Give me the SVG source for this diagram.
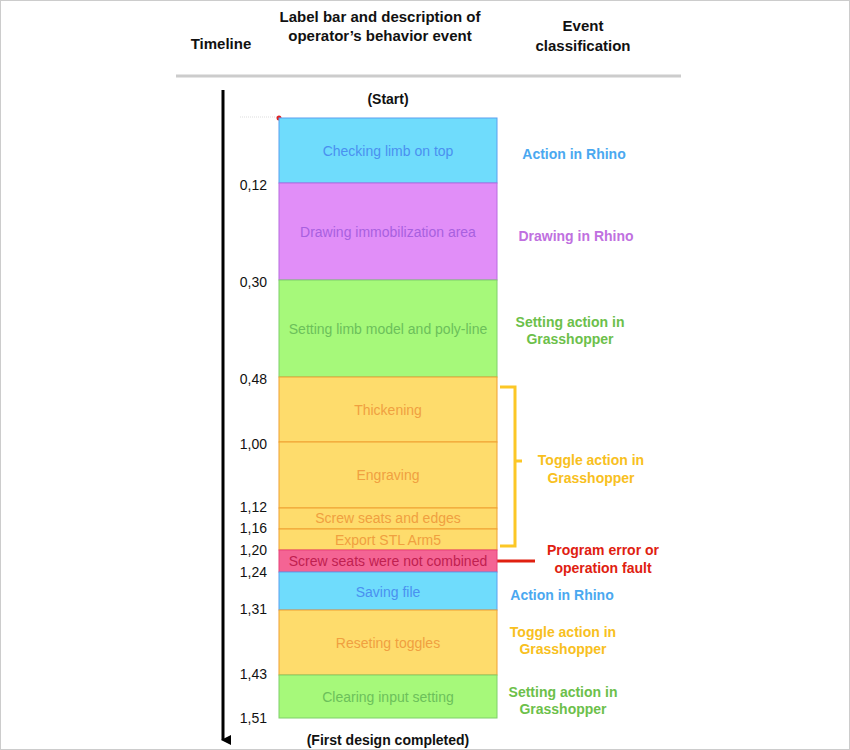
<svg xmlns="http://www.w3.org/2000/svg" width="850" height="750" viewBox="0 0 850 750">
<style>
text{font-family:"Liberation Sans",Arial,sans-serif}
.h{font-size:15px;font-weight:bold;fill:#111;text-anchor:middle}
.t{font-size:14px;fill:#111;text-anchor:end}
.l{font-size:14px;text-anchor:middle}
.c{font-size:14px;font-weight:bold;text-anchor:middle}
.bl{fill:#6fdcfc;stroke:#5aa0f0}
.pu{fill:#e18ef8;stroke:#b86be0}
.gr{fill:#a6f97a;stroke:#7fd06a}
.ye{fill:#fedc6c;stroke:#f0a030}
.rd{fill:#f46494;stroke:#e8407a}
</style>
<defs><marker id="ar" markerWidth="10" markerHeight="10" refX="5" refY="8" orient="auto" markerUnits="userSpaceOnUse"><path d="M0,0 L10,0 L5,10 z" fill="#000"/></marker></defs>
<rect width="850" height="750" fill="#fff"/>
<rect x="0.5" y="0.5" width="849" height="749" fill="none" stroke="#ccc"/>
<text class="h" x="221" y="49">Timeline</text>
<text class="h" x="380" y="22">Label bar and description of</text>
<text class="h" x="380" y="41">operator’s behavior event</text>
<text class="h" x="583" y="31">Event</text>
<text class="h" x="583" y="51">classification</text>
<line x1="176" y1="76" x2="681" y2="76" stroke="#ccc" stroke-width="3"/>
<g id="connectors">
<line x1="223" y1="90" x2="223" y2="740" stroke="#000" stroke-width="3" marker-end="url(#ar)"/>
<path d="M500,387 H515 V546 H500 M515,461 H522" fill="none" stroke="#fcc726" stroke-width="3"/>
<line x1="497" y1="561" x2="535" y2="561" stroke="#e02010" stroke-width="3"/>
<line x1="240" y1="117" x2="279" y2="117" stroke="#ddd" stroke-dasharray="1,1"/>
<circle cx="279" cy="118" r="2.5" fill="#e02020"/>
</g>
<text class="h" x="388" y="104" style="font-size:14px">(Start)</text>
<text class="h" x="388" y="745" style="font-size:14px">(First design completed)</text>
<g id="n1"><rect class="bl" x="279" y="118" width="218" height="65"/><text class="l" x="388" y="156" fill="#4a90f0">Checking limb on top</text></g>
<g id="n2"><rect class="pu" x="279" y="183" width="218" height="97"/><text class="l" x="388" y="237" fill="#a860e0">Drawing immobilization area</text></g>
<g id="n3"><rect class="gr" x="279" y="280" width="218" height="97"/><text class="l" x="388" y="334" fill="#6cc05a">Setting limb model and poly-line</text></g>
<g id="n4"><rect class="ye" x="279" y="377" width="218" height="65"/><text class="l" x="388" y="415" fill="#f0a040">Thickening</text></g>
<g id="n5"><rect class="ye" x="279" y="442" width="218" height="66"/><text class="l" x="388" y="480" fill="#f0a040">Engraving</text></g>
<g id="n6"><rect class="ye" x="279" y="508" width="218" height="21"/><text class="l" x="388" y="523" fill="#f0a040">Screw seats and edges</text></g>
<g id="n7"><rect class="ye" x="279" y="529" width="218" height="21"/><text class="l" x="388" y="545" fill="#f0a040">Export STL Arm5</text></g>
<g id="n8"><rect class="rd" x="279" y="550" width="218" height="22"/><text class="l" x="388" y="566" fill="#c02050">Screw seats were not combined</text></g>
<g id="n9"><rect class="bl" x="279" y="572" width="218" height="38"/><text class="l" x="388" y="597" fill="#4a90f0">Saving file</text></g>
<g id="n10"><rect class="ye" x="279" y="610" width="218" height="65"/><text class="l" x="388" y="648" fill="#f0a040">Reseting toggles</text></g>
<g id="n11"><rect class="gr" x="279" y="675" width="218" height="43"/><text class="l" x="388" y="702" fill="#6cc05a">Clearing input setting</text></g>
<g id="times">
<text class="t" x="267" y="190">0,12</text><text class="t" x="267" y="287">0,30</text><text class="t" x="267" y="384">0,48</text>
<text class="t" x="267" y="449">1,00</text><text class="t" x="267" y="512">1,12</text><text class="t" x="267" y="533">1,16</text>
<text class="t" x="267" y="555">1,20</text><text class="t" x="267" y="577">1,24</text><text class="t" x="267" y="614">1,31</text>
<text class="t" x="267" y="679">1,43</text><text class="t" x="267" y="723">1,51</text>
</g>
<g id="classes">
<text class="c" x="574" y="159" fill="#4aa8f0">Action in Rhino</text>
<text class="c" x="576" y="241" fill="#c070e0">Drawing in Rhino</text>
<text class="c" x="570" y="327" fill="#6cc04a">Setting action in</text><text class="c" x="570" y="344" fill="#6cc04a">Grasshopper</text>
<text class="c" x="591" y="465" fill="#f8c020">Toggle action in</text><text class="c" x="591" y="483" fill="#f8c020">Grasshopper</text>
<text class="c" x="603" y="555" fill="#e02010">Program error or</text><text class="c" x="603" y="573" fill="#e02010">operation fault</text>
<text class="c" x="562" y="600" fill="#4aa8f0">Action in Rhino</text>
<text class="c" x="563" y="637" fill="#f8c020">Toggle action in</text><text class="c" x="563" y="654" fill="#f8c020">Grasshopper</text>
<text class="c" x="563" y="697" fill="#6cc04a">Setting action in</text><text class="c" x="563" y="714" fill="#6cc04a">Grasshopper</text>
</g>
</svg>
